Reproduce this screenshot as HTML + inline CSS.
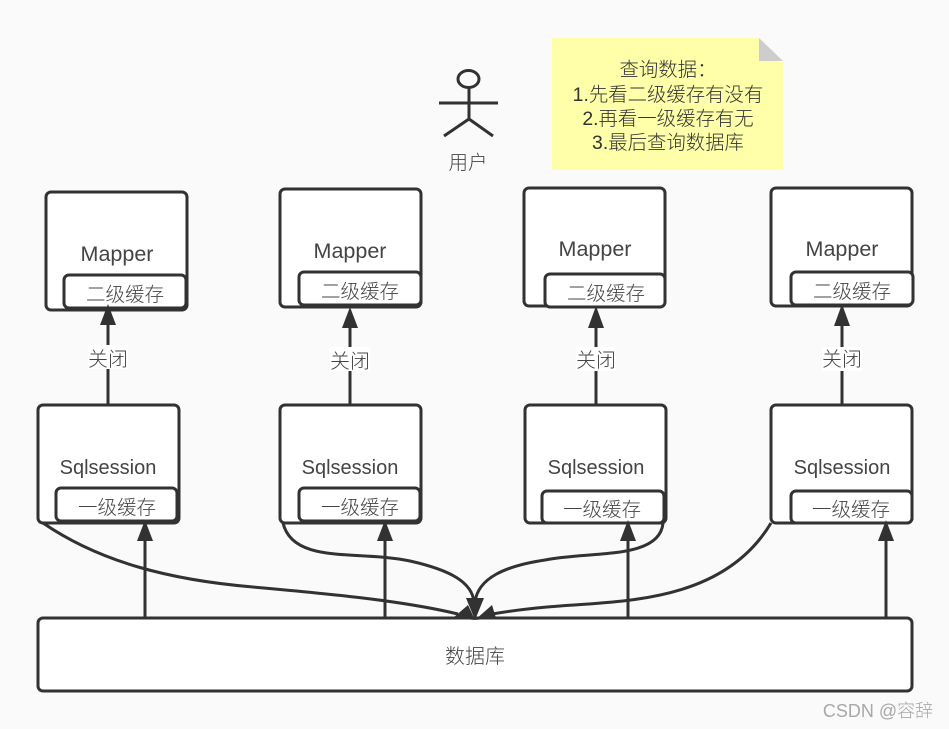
<!DOCTYPE html>
<html><head><meta charset="utf-8"><style>
html,body{margin:0;padding:0;background:#fafafa}
svg{display:block}
text{font-family:"Liberation Sans","Noto Sans CJK SC",sans-serif;fill:#444;font-size:19.500px;text-anchor:middle;font-weight:300}
.b{fill:#fff;stroke:#323232;stroke-width:3}
.l{fill:none;stroke:#323232;stroke-width:3}
.a{fill:#323232;stroke:none}
.c{font-size:19.400px;fill:#333}
.m{font-size:21.500px}
.s{font-size:20px}
.d{font-size:20px}
</style></head><body>
<svg width="949" height="729" viewBox="0 0 949 729" xmlns="http://www.w3.org/2000/svg">
<rect width="949" height="729" fill="#fafafa"/>

<!-- actor -->
<ellipse cx="468.500" cy="79" rx="10.500" ry="8.500" fill="none" stroke="#323232" stroke-width="3"/>
<path class="l" d="M469 88V119M439 103H498M444 136L469 119L493 136"/>
<text x="468" y="169">用户</text>

<!-- note -->
<path d="M552 38H759L783 61V170H552Z" fill="#ffffa9"/>
<path d="M759 38L783 61H759Z" fill="#cdcdcd"/>
<text class="c" x="668" y="76">查询数据：</text>
<text class="c" x="668" y="101">1.先看二级缓存有没有</text>
<text class="c" x="668" y="125">2.再看一级缓存有无</text>
<text class="c" x="668" y="149">3.最后查询数据库</text>

<!-- mappers -->
<rect class="b" x="46" y="192" width="141" height="118" rx="5"/>
<rect class="b" x="64" y="275" width="122" height="33" rx="5"/>
<text class="m" x="117" y="261">Mapper</text><text x="125" y="301">二级缓存</text>

<rect class="b" x="280" y="189" width="141" height="118" rx="5"/>
<rect class="b" x="299" y="272" width="122" height="33" rx="5"/>
<text class="m" x="350" y="258">Mapper</text><text x="360" y="298">二级缓存</text>

<rect class="b" x="524" y="188" width="141" height="118" rx="5"/>
<rect class="b" x="545" y="274" width="120" height="33" rx="5"/>
<text class="m" x="595" y="256">Mapper</text><text x="606" y="300">二级缓存</text>

<rect class="b" x="771" y="188" width="141" height="118" rx="5"/>
<rect class="b" x="791" y="272" width="122" height="33" rx="5"/>
<text class="m" x="842" y="256">Mapper</text><text x="852" y="298">二级缓存</text>

<!-- sessions -->
<rect class="b" x="38" y="405" width="141" height="118" rx="5"/>
<rect class="b" x="56" y="488" width="121" height="33" rx="5"/>
<text class="s" x="108" y="474">Sqlsession</text><text x="117" y="514">一级缓存</text>

<rect class="b" x="280" y="405" width="141" height="118" rx="5"/>
<rect class="b" x="299" y="488" width="121" height="33" rx="5"/>
<text class="s" x="350" y="474">Sqlsession</text><text x="360" y="514">一级缓存</text>

<rect class="b" x="525" y="405" width="141" height="118" rx="5"/>
<rect class="b" x="542" y="491" width="122" height="32" rx="5"/>
<text class="s" x="596" y="474">Sqlsession</text><text x="602" y="516">一级缓存</text>

<rect class="b" x="771" y="405" width="141" height="118" rx="5"/>
<rect class="b" x="791" y="491" width="121" height="32" rx="5"/>
<text class="s" x="842" y="474">Sqlsession</text><text x="851" y="516">一级缓存</text>

<!-- database -->
<rect class="b" x="38" y="618" width="874" height="73" rx="5"/>
<text class="d" x="475" y="663">数据库</text>

<!-- up connectors: mapper -->
<path class="l" d="M108 405V325M350 405V328M596 405V328M842 405V326"/>
<path class="a" d="M108 304L116 325H100Z"/>
<path class="a" d="M350 307L358 328H342Z"/>
<path class="a" d="M596 306L604 328H588Z"/>
<path class="a" d="M842 304L850 326H834Z"/>
<rect x="88" y="345" width="40" height="24" fill="#fff"/>
<text class="d" x="108" y="366">关闭</text>
<rect x="330" y="347" width="40" height="24" fill="#fff"/>
<text class="d" x="350" y="368">关闭</text>
<rect x="576" y="347" width="40" height="24" fill="#fff"/>
<text class="d" x="596" y="367">关闭</text>
<rect x="822" y="347" width="40" height="24" fill="#fff"/>
<text class="d" x="842" y="366">关闭</text>

<!-- up connectors: session -->
<path class="l" d="M145 618V541M385 618V541M628 618V541M886 618V541"/>
<path class="a" d="M145 520L153 541H137Z"/>
<path class="a" d="M385 520L393 541H377Z"/>
<path class="a" d="M628 520L636 541H620Z"/>
<path class="a" d="M886 520L894 541H878Z"/>

<!-- curves to database -->
<path class="l" d="M43 523C100 562 170 580 253 587C320 593 400 600 458 614"/>
<path class="l" d="M283 523C293 565 360 550 410 561C450 570 472 582 474 602"/>
<path class="l" d="M663 523C660 560 590 551 545 560C505 566 478 578 475 602"/>
<path class="l" d="M771 523C725 600 630 601 560 606C530 608 510 611 492 614"/>
<path class="a" d="M475 620L453 618L468 605Z"/>
<path class="a" d="M475 620L466 598H484Z"/>
<path class="a" d="M475 620L492 605L496 618Z"/>

<!-- watermark -->
<text x="878" y="717" style="font-size:18px;fill:#a8a8a8">CSDN @容辞</text>
</svg>
</body></html>
